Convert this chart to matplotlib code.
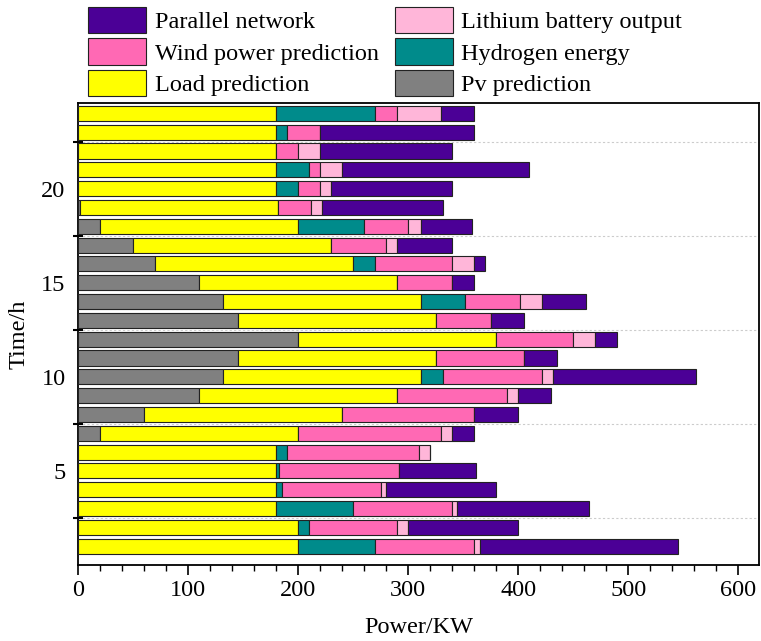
import numpy as np
import matplotlib
matplotlib.use("Agg")
import matplotlib.pyplot as plt
from matplotlib.ticker import MultipleLocator, FixedLocator

plt.rcParams['font.family'] = ['Liberation Serif', 'DejaVu Serif']

# Hourly dispatch, hours 1..24 (KW)
hours = np.arange(1, 25)
pv = [0, 0, 0, 0, 0, 0, 20, 60, 110, 132, 145, 200, 145, 132, 110, 70, 50, 20, 2, 0, 0, 0, 0, 0]
load = [200, 200, 180, 180, 180, 180, 180, 180, 180, 180, 180, 180,
        180, 180, 180, 180, 180, 180, 180, 180, 180, 180, 180, 180]
hydrogen = [70, 10, 70, 5, 3, 10, 0, 0, 0, 20, 0, 0, 0, 40, 0, 20, 0, 60, 0, 20, 30, 0, 10, 90]
wind = [90, 80, 90, 90, 109, 120, 130, 120, 100, 90, 80, 70, 50, 50, 50, 70, 50, 40, 30, 20, 10, 20, 30, 20]
lithium = [5, 10, 4, 5, 0, 10, 10, 0, 10, 10, 0, 20, 0, 20, 0, 20, 10, 12, 10, 10, 20, 20, 0, 40]
grid = [180, 100, 120, 100, 70, 0, 20, 40, 30, 130, 30, 20, 30, 40, 20, 10, 50, 46, 110, 110, 170, 120, 140, 30]

series = [
    ('Pv prediction', pv, '#808080'),
    ('Load prediction', load, '#FFFF00'),
    ('Hydrogen energy', hydrogen, '#008B8B'),
    ('Wind power prediction', wind, '#FF69B4'),
    ('Lithium battery output', lithium, '#FFB6D9'),
    ('Parallel network', grid, '#4B0096'),
]

fig = plt.figure(figsize=(7.61, 6.41), dpi=100)
ax = fig.add_axes([0.1025, 0.1186, 0.895, 0.7207])

left = np.zeros(len(hours))
handles = {}
for name, vals, color in series:
    vals = np.array(vals, dtype=float)
    b = ax.barh(hours, vals, left=left, height=0.8, color=color,
                edgecolor='#222222', linewidth=0.8, zorder=3)
    handles[name] = b
    left += vals

ax.set_xlim(0, 619)
ax.set_ylim(0.0, 24.55)

ax.xaxis.set_major_locator(MultipleLocator(100))
ax.xaxis.set_minor_locator(MultipleLocator(20))
ax.tick_params(axis='x', which='major', direction='out', length=7, width=1.2, labelsize=17.5)
ax.tick_params(axis='x', which='minor', direction='out', length=4, width=1.0)

# tick marks sit between hour groups, labels on every fifth hour
ax.yaxis.set_major_locator(FixedLocator([2.5, 7.5, 12.5, 17.5, 22.5]))
ax.yaxis.set_minor_locator(FixedLocator([5, 10, 15, 20]))
ax.set_yticklabels([])
ax.set_yticklabels(['5', '10', '15', '20'], minor=True)
ax.tick_params(axis='y', which='major', direction='inout', length=7, width=1.5)
ax.tick_params(axis='y', which='minor', length=0, labelsize=17.5, pad=9)

ax.grid(axis='y', which='major', linestyle=(0, (2, 2)), color='#cccccc', linewidth=0.8, zorder=0)

for sp in ax.spines.values():
    sp.set_linewidth(1.3)

ax.set_xlabel('Power/KW', fontsize=17.5, labelpad=12)
ax.set_ylabel('Time/h', fontsize=17.5, labelpad=8)

order = ['Parallel network', 'Wind power prediction', 'Load prediction',
         'Lithium battery output', 'Hydrogen energy', 'Pv prediction']
leg = fig.legend([handles[n] for n in order], order, ncol=2, frameon=False,
                 loc='upper left', bbox_to_anchor=(88 / 761, 1 - 7 / 641), fontsize=17.5,
                 handlelength=2.4, handleheight=1.3, handletextpad=0.35,
                 labelspacing=0.2, columnspacing=0.65, borderpad=0, borderaxespad=0)

fig.savefig('out.png', dpi=100)
